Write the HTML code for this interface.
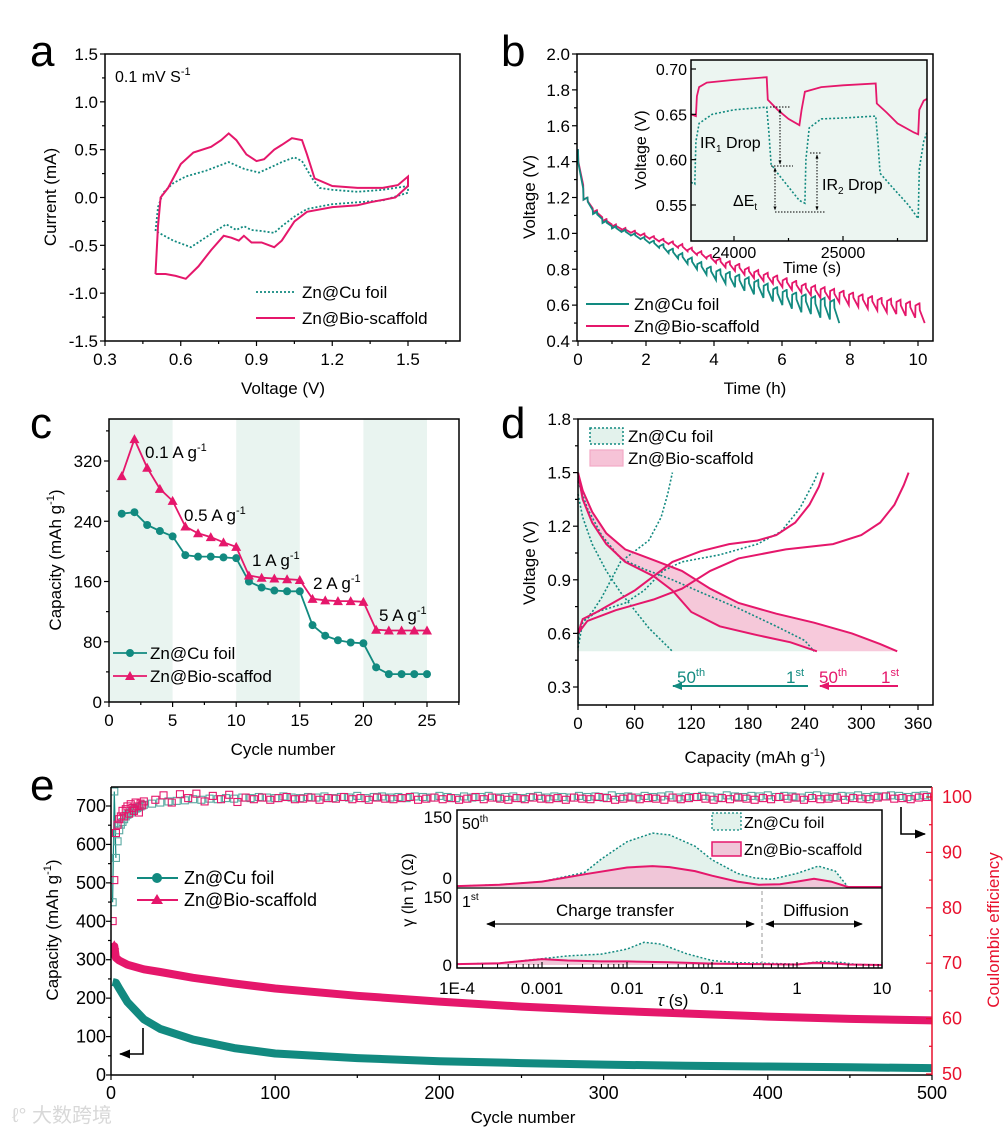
<!DOCTYPE html>
<html><head><meta charset="utf-8"><style>
html,body{margin:0;padding:0;background:#fff;}
svg{display:block;font-family:"Liberation Sans","Noto Sans CJK SC",sans-serif;}
</style></head><body>
<svg id="fig" width="1008" height="1130" viewBox="0 0 1008 1130" xmlns="http://www.w3.org/2000/svg">
<defs>
<clipPath id="clipE"><rect x="111" y="787" width="821" height="288"/></clipPath>
<clipPath id="clipB"><rect x="577" y="54" width="356" height="287"/></clipPath>
<clipPath id="clipBi"><rect x="691" y="60" width="236" height="181"/></clipPath>
<marker id="ah" viewBox="0 0 10 10" refX="9" refY="5" markerWidth="7" markerHeight="7" orient="auto-start-reverse"><path d="M0 1 L10 5 L0 9 z" fill="#000"/></marker>
<marker id="ahs" viewBox="0 0 10 10" refX="9" refY="5" markerWidth="4" markerHeight="4" orient="auto-start-reverse"><path d="M0 1 L10 5 L0 9 z" fill="#000"/></marker>
<marker id="aht" viewBox="0 0 10 10" refX="9" refY="5" markerWidth="5" markerHeight="5" orient="auto"><path d="M0 1 L10 5 L0 9 z" fill="#128a80"/></marker>
<marker id="ahp" viewBox="0 0 10 10" refX="9" refY="5" markerWidth="5" markerHeight="5" orient="auto"><path d="M0 1 L10 5 L0 9 z" fill="#e5176b"/></marker>
</defs>
<g id="root"></g>
<!-- panel letters -->
<text x="30" y="66" font-size="44">a</text>
<text x="501" y="66" font-size="44">b</text>
<text x="30" y="438" font-size="44">c</text>
<text x="501" y="438" font-size="44">d</text>
<text x="30" y="800" font-size="44">e</text>

<!-- panel a static text -->
<text x="115" y="82" font-size="16">0.1 mV S<tspan font-size="11" dy="-7">-1</tspan></text>
<text x="283" y="394" font-size="17" text-anchor="middle">Voltage (V)</text>
<text transform="translate(56,197) rotate(-90)" font-size="17" text-anchor="middle">Current (mA)</text>
<text x="302" y="298" font-size="17">Zn@Cu foil</text>
<text x="302" y="324" font-size="17">Zn@Bio-scaffold</text>

<!-- panel b static text -->
<text x="755" y="394" font-size="17" text-anchor="middle">Time (h)</text>
<text transform="translate(535,197) rotate(-90)" font-size="17" text-anchor="middle">Voltage (V)</text>
<text x="634" y="310" font-size="17">Zn@Cu foil</text>
<text x="634" y="332" font-size="17">Zn@Bio-scaffold</text>

<!-- panel c static text -->
<text x="283" y="755" font-size="17" text-anchor="middle">Cycle number</text>
<text transform="translate(61,560) rotate(-90)" font-size="17" text-anchor="middle">Capacity (mAh g<tspan font-size="11" dy="-7">-1</tspan><tspan dy="7">)</tspan></text>
<text x="145" y="458" font-size="17">0.1 A g<tspan font-size="11" dy="-7">-1</tspan></text>
<text x="184" y="521" font-size="17">0.5 A g<tspan font-size="11" dy="-7">-1</tspan></text>
<text x="252" y="566" font-size="17">1 A g<tspan font-size="11" dy="-7">-1</tspan></text>
<text x="313" y="589" font-size="17">2 A g<tspan font-size="11" dy="-7">-1</tspan></text>
<text x="379" y="621" font-size="17">5 A g<tspan font-size="11" dy="-7">-1</tspan></text>
<text x="150" y="659" font-size="17">Zn@Cu foil</text>
<text x="150" y="682" font-size="17">Zn@Bio-scaffod</text>

<!-- panel d static text -->
<text x="755" y="763" font-size="17" text-anchor="middle">Capacity (mAh g<tspan font-size="11" dy="-7">-1</tspan><tspan dy="7">)</tspan></text>
<text transform="translate(535,563) rotate(-90)" font-size="17" text-anchor="middle">Voltage (V)</text>
<text x="628" y="442" font-size="17">Zn@Cu foil</text>
<text x="628" y="464" font-size="17">Zn@Bio-scaffold</text>
<text x="677" y="683" font-size="17" fill="#128a80">50<tspan font-size="11" dy="-7">th</tspan></text>
<text x="786" y="683" font-size="17" fill="#128a80">1<tspan font-size="11" dy="-7">st</tspan></text>
<text x="819" y="683" font-size="17" fill="#e5176b">50<tspan font-size="11" dy="-7">th</tspan></text>
<text x="881" y="683" font-size="17" fill="#e5176b">1<tspan font-size="11" dy="-7">st</tspan></text>

<!-- panel e static text -->
<text x="523" y="1123" font-size="17" text-anchor="middle">Cycle number</text>
<text transform="translate(58,930) rotate(-90)" font-size="17" text-anchor="middle">Capacity (mAh g<tspan font-size="11" dy="-7">-1</tspan><tspan dy="7">)</tspan></text>
<text transform="translate(999,930) rotate(-90)" font-size="17" text-anchor="middle" fill="#e8112d">Coulombic efficiency</text>
<text x="184" y="884" font-size="18">Zn@Cu foil</text>
<text x="184" y="906" font-size="18">Zn@Bio-scaffold</text>
<text x="12" y="1122" font-size="20" fill="#d8d8d8">ℓ° 大数跨境</text>
</svg>
<script>
// ===== DATA =====
// panel a (CV)
const aBioV=[0.5,0.51,0.52,0.55,0.6,0.65,0.72,0.76,0.79,0.82,0.86,0.9,0.93,0.97,1.0,1.04,1.08,1.1,1.13,1.2,1.3,1.4,1.46,1.5,1.5,1.45,1.35,1.3,1.2,1.1,1.05,1.0,0.97,0.92,0.88,0.85,0.83,0.8,0.77,0.72,0.67,0.62,0.58,0.54,0.5,0.5];
const aBioI=[-0.8,-0.3,0,0.1,0.35,0.47,0.53,0.6,0.67,0.6,0.45,0.38,0.4,0.5,0.55,0.62,0.6,0.45,0.2,0.12,0.1,0.1,0.13,0.22,0.12,0,-0.05,-0.08,-0.1,-0.15,-0.25,-0.45,-0.52,-0.47,-0.47,-0.4,-0.45,-0.42,-0.4,-0.55,-0.72,-0.85,-0.82,-0.8,-0.8,-0.8];
const aCuV=[0.5,0.51,0.53,0.57,0.62,0.7,0.79,0.85,0.91,0.96,1.0,1.05,1.08,1.12,1.15,1.2,1.3,1.4,1.5,1.5,1.4,1.3,1.2,1.1,1.05,1.0,0.97,0.92,0.88,0.85,0.82,0.78,0.72,0.64,0.57,0.5];
const aCuI=[-0.35,-0.1,0.05,0.15,0.22,0.28,0.37,0.3,0.26,0.32,0.37,0.42,0.38,0.2,0.1,0.08,0.06,0.08,0.12,0.05,-0.03,-0.05,-0.07,-0.12,-0.2,-0.3,-0.37,-0.35,-0.34,-0.3,-0.34,-0.28,-0.38,-0.52,-0.45,-0.35];
const aXTicks=[0.3,0.6,0.9,1.2,1.5];
const aYTicks=[-1.5,-1.0,-0.5,0.0,0.5,1.0,1.5];
// panel b (GITT)
const bPeriod=0.279;
const bCuTop=[1.47,1.2,1.12,1.07,1.04,1.02,1.0,0.98,0.96,0.94,0.915,0.89,0.865,0.84,0.815,0.8,0.785,0.77,0.755,0.74,0.72,0.7,0.685,0.67,0.66,0.65,0.64,0.63];
const bCuBot=[1.25,1.13,1.08,1.04,1.01,0.99,0.97,0.945,0.92,0.89,0.86,0.83,0.8,0.77,0.74,0.72,0.7,0.68,0.66,0.64,0.62,0.6,0.58,0.56,0.55,0.53,0.52,0.5];
const bBioTop=[1.47,1.2,1.13,1.08,1.05,1.03,1.015,1.0,0.985,0.97,0.955,0.94,0.92,0.9,0.88,0.86,0.845,0.83,0.81,0.795,0.78,0.765,0.75,0.735,0.72,0.71,0.7,0.69,0.68,0.67,0.66,0.65,0.64,0.635,0.63,0.62,0.61];
const bBioBot=[1.27,1.14,1.09,1.05,1.025,1.005,0.99,0.97,0.955,0.94,0.92,0.9,0.88,0.86,0.835,0.81,0.79,0.77,0.75,0.735,0.72,0.7,0.685,0.67,0.655,0.64,0.63,0.615,0.6,0.59,0.58,0.57,0.56,0.55,0.54,0.53,0.5];
const bXTicks=[0,2,4,6,8,10];
const bYTicks=[0.4,0.6,0.8,1.0,1.2,1.4,1.6,1.8,2.0];
const biBioT=[23606,23650,23660,23680,23750,24000,24300,24310,24400,24500,24600,24620,24650,24800,25000,25300,25310,25400,25500,25650,25690,25700,25740,25770];
const biBioV=[0.65,0.648,0.67,0.68,0.685,0.688,0.691,0.666,0.655,0.645,0.638,0.655,0.675,0.68,0.682,0.684,0.662,0.652,0.64,0.63,0.628,0.655,0.665,0.667];
const biCuT=[23606,23640,23650,23680,23800,24000,24300,24320,24340,24400,24500,24600,24650,24660,24690,24800,25000,25300,25320,25340,25450,25600,25690,25700,25740,25770];
const biCuV=[0.575,0.573,0.62,0.64,0.65,0.655,0.658,0.63,0.595,0.585,0.57,0.555,0.552,0.6,0.635,0.645,0.646,0.648,0.62,0.585,0.57,0.55,0.535,0.59,0.62,0.63];
const biXTicks=[24000,25000];
const biYTicks=[0.55,0.60,0.65,0.70];
// panel c (rate)
const cCycles=[1,2,3,4,5,6,7,8,9,10,11,12,13,14,15,16,17,18,19,20,21,22,23,24,25];
const cCu=[250,252,235,227,220,195,193,193,192,191,160,152,148,147,147,102,88,82,79,78,46,37,37,37,37];
const cBio=[300,349,311,283,267,233,224,219,212,206,168,165,164,163,162,137,135,134,134,133,96,95,95,95,95];
const cBands=[[0,5],[10,15],[20,25]];
const cXTicks=[0,5,10,15,20,25];
const cYTicks=[0,80,160,240,320];
// panel d (charge/discharge)
const dBio50cQ=[0,5,20,40,60,80,100,130,160,190,210,230,245,255,260];
const dBio50cV=[0.6,0.68,0.72,0.78,0.84,0.92,1.0,1.06,1.1,1.12,1.15,1.22,1.32,1.42,1.5];
const dBio1cQ=[0,10,40,80,110,140,170,220,270,300,320,335,345,350];
const dBio1cV=[0.6,0.67,0.73,0.79,0.85,0.95,1.02,1.07,1.1,1.15,1.22,1.32,1.43,1.5];
const dCu1cQ=[0,3,20,50,70,90,110,150,190,215,235,250,254];
const dCu1cV=[0.55,0.66,0.72,0.77,0.84,0.95,1.0,1.04,1.1,1.17,1.3,1.45,1.5];
const dCu50cQ=[0,5,15,25,35,45,60,75,88,95,100];
const dCu50cV=[0.52,0.66,0.72,0.8,0.9,1.0,1.06,1.12,1.25,1.38,1.5];
const dBio1dQ=[0,5,15,30,50,80,110,140,170,210,250,290,320,338];
const dBio1dV=[1.5,1.4,1.28,1.16,1.07,1.01,0.95,0.85,0.77,0.71,0.66,0.6,0.54,0.5];
const dBio50dQ=[0,5,15,30,50,80,100,120,150,190,225,253];
const dBio50dV=[1.5,1.35,1.22,1.1,1.0,0.92,0.84,0.72,0.64,0.59,0.55,0.5];
const dCu1dQ=[0,10,25,45,70,100,130,170,210,240,250];
const dCu1dV=[1.45,1.3,1.15,1.02,0.96,0.9,0.83,0.74,0.64,0.56,0.5];
const dCu50dQ=[0,5,15,30,45,60,75,100];
const dCu50dV=[1.38,1.25,1.1,0.95,0.83,0.73,0.63,0.5];
const dXTicks=[0,60,120,180,240,300,360];
const dYTicks=[0.3,0.6,0.9,1.2,1.5,1.8];
// panel e (cycling)
const eCuCycles=[1,3,5,10,20,30,50,75,100,150,200,250,300,350,400,450,500];
const eCuCap=[242,240,225,190,145,120,92,70,56,44,36,31,27,24,22,20,18];
const eBioCycles=[1,2,3,5,10,20,30,50,75,100,150,200,250,300,350,400,450,500];
const eBioCap=[305,335,305,298,287,275,268,253,238,225,206,191,178,168,160,152,146,142];
const eCEearlyCycles=[1,2,3,4,5,6,7,8,9,10,11,12,13,14,15,16,17,18,19,20];
const eBioCEearly=[77.6,85,93.5,95,96,96.5,97.5,96.5,97.8,98.3,97,98.7,98,97.5,99,98.3,97.2,98.8,98.5,99.2];
const eCuCEearly=[81,101,89,92,94,95,95.5,96,96.5,96.8,97,97.2,97.5,97.7,97.9,98,98.2,98.3,98.5,98.6];
const eCElateStart=25, eCElateStep=5;
const eBioCElate=[99.5,100.3,99.0,100.5,99.8,100.6,99.2,100.2,99.6,100.4,99.1,99.9,99.6,99.9,99.5,99.8,100.0,99.6,99.7,99.9,99.5,99.8,99.7,100.0,99.6,99.8,99.5,99.9,99.7,99.6,99.8,100.0,99.5,99.7,99.9,99.6,99.8,99.5,99.7,100.0,99.6,99.9,99.7,99.5,99.8,99.6,99.9,99.7,99.6,99.8,99.5,99.9,99.7,99.6,100.0,99.8,99.5,99.7,99.9,99.6,99.8,99.7,99.5,99.9,99.6,99.8,100.0,99.7,99.5,99.8,99.6,99.9,99.7,99.5,99.8,99.6,100.0,99.7,99.9,99.5,99.8,99.6,99.7,99.9,99.5,99.8,99.7,99.6,99.9,100.1,99.7,99.8,99.6,99.9,100.0,99.8];
const eCuCElate=[98.8,99.0,99.2,99.3,99.4,99.6,99.5,99.7,99.6,99.8,99.7,99.9,99.8,100.0,99.9,99.8,100.1,99.9,99.8,100.0,99.9,100.1,99.8,100.0,99.9,100.2,99.8,100.0,100.1,99.9,100.0,99.8,100.1,100.0,99.9,100.2,100.0,99.8,100.1,99.9,100.0,100.2,99.9,100.0,100.1,99.8,100.0,100.2,99.9,100.1,100.0,99.9,100.2,100.0,100.1,99.9,100.3,100.0,100.1,99.9,100.2,100.0,100.1,100.3,99.9,100.1,100.0,100.2,100.1,99.9,100.3,100.1,100.0,100.2,100.1,100.3,100.0,100.2,100.1,99.9,100.2,100.3,100.1,100.0,100.2,100.1,100.3,100.0,100.2,100.1,100.3,100.2,100.0,100.2,100.3,100.1];
const eXTicks=[0,100,200,300,400,500];
const eYTicks=[0,100,200,300,400,500,600,700];
const eY2Ticks=[50,60,70,80,90,100];
// inset e (DRT)
const iCu50L=[-4,-3.5,-3,-2.5,-2.3,-2,-1.7,-1.5,-1.2,-1,-0.7,-0.5,-0.3,0,0.25,0.45,0.6,1];
const iCu50G=[2,5,12,32,62,100,119,115,90,60,30,20,17,30,46,35,0,0];
const iBio50L=[-4,-3.5,-3,-2.5,-2,-1.7,-1.5,-1.2,-1,-0.7,-0.45,-0.2,0,0.2,0.4,0.6,1];
const iBio50G=[2,5,12,28,43,46,44,35,25,12,5,6,12,18,12,0,0];
const iCu1L=[-4,-3.5,-3,-2.7,-2.3,-2,-1.8,-1.6,-1.3,-1,-0.7,-0.4,0,0.3,0.5,0.7,1];
const iCu1G=[2,4,14,20,24,35,50,46,25,10,5,4,2,8,6,1,0];
const iBio1L=[-4,-3.5,-3,-2.7,-2.3,-2,-1.5,-1,-0.5,0,0.2,0.4,0.6,1];
const iBio1G=[2,4,13,10,8,8,6,3,2,1,5,4,1,0];
const iXTicks=[-4,-3,-2,-1,0,1];
const iXLabels=['1E-4','0.001','0.01','0.1','1','10'];

// ===== HELPERS =====
const NS='http://www.w3.org/2000/svg';
const root=document.getElementById('root');
const TEAL='#128a80', PINK='#e5176b', RED='#e8112d';
function mk(tag,attrs,name,parent){
  const e=document.createElementNS(NS,tag);
  for(const k in attrs) e.setAttribute(k,attrs[k]);
  
  
  (parent||root).appendChild(e);
  return e;
}
function lin(d0,d1,p0,p1){return v=>p0+(v-d0)*(p1-p0)/(d1-d0);}
function pathD(xs,ys,sx,sy){return xs.map((x,i)=>(i?'L':'M')+sx(x).toFixed(1)+' '+sy(ys[i]).toFixed(1)).join('');}
function txt(parent,x,y,s,size,anchor,name,fill){
  const t=mk('text',{x:x,y:y,'font-size':size,'text-anchor':anchor,fill:fill||'#000'},name,parent);
  t.textContent=s;return t;
}
function fmt(v,d){return v.toFixed(d);}
function box(g,x0,y0,x1,y1,name,stroke){
  mk('rect',{x:x0,y:y0,width:x1-x0,height:y1-y0,fill:'none',stroke:stroke||'#000','stroke-width':1.5},name,g);
}
function xTicks(g,sx,yA,vals,len,name,color){
  vals.forEach(v=>{mk('line',{x1:sx(v),x2:sx(v),y1:yA,y2:yA+len,stroke:color||'#000','stroke-width':1.2},name,g);});
}
function yTicks(g,sy,xA,vals,len,name,color){
  vals.forEach(v=>{mk('line',{x1:xA,x2:xA-len,y1:sy(v),y2:sy(v),stroke:color||'#000','stroke-width':1.2},name,g);});
}
function mids(vals){const m=[];for(let i=0;i<vals.length-1;i++)m.push((vals[i]+vals[i+1])/2);return m;}

// ===== PANEL A =====
(function(){
  const g=mk('g',{},'panel-a');
  const sx=lin(0.3,1.5,105,408), sy=lin(0,1.5,197.5,54);
  mk('path',{d:pathD(aCuV,aCuI,sx,sy),fill:'none',stroke:TEAL,'stroke-width':1.8,'stroke-dasharray':'2 2'},'a-cu-foil-curve',g);
  mk('path',{d:pathD(aBioV,aBioI,sx,sy),fill:'none',stroke:PINK,'stroke-width':2},'a-bio-scaffold-curve',g);
  box(g,105,54,460,341,'a-plot-frame');
  xTicks(g,sx,341,aXTicks,5,'a-x-tick');
  xTicks(g,sx,341,mids(aXTicks).concat([1.65]),3,'a-x-minor-tick');
  yTicks(g,sy,105,aYTicks,5,'a-y-tick');
  yTicks(g,sy,105,mids(aYTicks),3,'a-y-minor-tick');
  aXTicks.forEach(v=>txt(g,sx(v),365,fmt(v,1),17,'middle','a-x-tick-label'));
  aYTicks.forEach(v=>txt(g,98,sy(v)+6,fmt(v,1),17,'end','a-y-tick-label'));
  mk('line',{x1:256,x2:295,y1:292,y2:292,stroke:TEAL,'stroke-width':1.8,'stroke-dasharray':'2 2'},'a-legend-cu-line',g);
  mk('line',{x1:256,x2:295,y1:318,y2:318,stroke:PINK,'stroke-width':2},'a-legend-bio-line',g);
})();

// ===== PANEL B =====
(function(){
  const g=mk('g',{},'panel-b');
  const sx=lin(0,10,578,918), sy=lin(0.4,2.0,341,54);
  const cg=mk('g',{'clip-path':'url(#clipB)'},'b-curves',g);
  function gitt(top,bot){
    const T=[],V=[];const P=bPeriod;
    for(let k=0;k<top.length;k++){
      const t0=k*P;
      T.push(t0);V.push(top[k]);
      T.push(t0+0.008);V.push(top[k]-(top[k]-bot[k])*0.35);
      T.push(t0+0.55*P);V.push(bot[k]);
      if(k<top.length-1){T.push(t0+0.58*P);V.push(top[k+1]-0.012);T.push(t0+P-0.002);V.push(top[k+1]);}
    }
    return [T,V];
  }
  const cu=gitt(bCuTop,bCuBot), bio=gitt(bBioTop,bBioBot);
  mk('path',{d:pathD(bio[0],bio[1],sx,sy),fill:'none',stroke:PINK,'stroke-width':1.8},'b-bio-scaffold-curve',cg);
  mk('path',{d:pathD(cu[0],cu[1],sx,sy),fill:'none',stroke:TEAL,'stroke-width':1.8},'b-cu-foil-curve',cg);
  box(g,577,54,933,341,'b-plot-frame');
  xTicks(g,sx,341,bXTicks,5,'b-x-tick');
  xTicks(g,sx,341,[1,3,5,7,9],3,'b-x-minor-tick');
  yTicks(g,sy,577,bYTicks,5,'b-y-tick');
  yTicks(g,sy,577,mids(bYTicks),3,'b-y-minor-tick');
  bXTicks.forEach(v=>txt(g,sx(v),365,String(v),17,'middle','b-x-tick-label'));
  bYTicks.forEach(v=>txt(g,570,sy(v)+6,fmt(v,1),17,'end','b-y-tick-label'));
  mk('line',{x1:586,x2:629,y1:304,y2:304,stroke:TEAL,'stroke-width':2},'b-legend-cu-line',g);
  mk('line',{x1:586,x2:629,y1:326,y2:326,stroke:PINK,'stroke-width':2},'b-legend-bio-line',g);
  // inset
  const ig=mk('g',{},'b-inset',g);
  mk('rect',{x:691,y:60,width:236,height:181,fill:'#ecf5f1'},'b-inset-background',ig);
  const ix=lin(24000,25000,734,843), iy=lin(0.55,0.70,205,69);
  const icg=mk('g',{'clip-path':'url(#clipBi)'},'b-inset-curves',ig);
  mk('path',{d:pathD(biCuT,biCuV,ix,iy),fill:'none',stroke:TEAL,'stroke-width':1.6,'stroke-dasharray':'2 2'},'b-inset-cu-curve',icg);
  mk('path',{d:pathD(biBioT,biBioV,ix,iy),fill:'none',stroke:PINK,'stroke-width':1.8},'b-inset-bio-curve',icg);
  box(ig,691,60,927,241,'b-inset-frame');
  xTicks(ig,ix,241,biXTicks,-5,'b-inset-x-tick');
  xTicks(ig,ix,241,[23500,24500,25500].filter(v=>ix(v)>691&&ix(v)<927),-3,'b-inset-x-minor-tick');
  yTicks(ig,iy,691,biYTicks,-5,'b-inset-y-tick');
  biXTicks.forEach(v=>txt(ig,ix(v),258,String(v),16,'middle','b-inset-x-tick-label'));
  biYTicks.forEach(v=>txt(ig,687,iy(v)+6,fmt(v,2),16,'end','b-inset-y-tick-label'));
  txt(ig,812,273,'Time (s)',16,'middle','b-inset-x-title');
  const yt=txt(ig,0,0,'Voltage (V)',16,'middle','b-inset-y-title');
  yt.setAttribute('transform','translate(646,150) rotate(-90)');
  const a1=mk('text',{x:700,y:148,'font-size':16},'b-ir1-label',ig); a1.innerHTML='IR<tspan font-size="10" dy="4">1</tspan><tspan dy="-4"> Drop</tspan>';
  const a2=mk('text',{x:822,y:190,'font-size':16},'b-ir2-label',ig); a2.innerHTML='IR<tspan font-size="10" dy="4">2</tspan><tspan dy="-4"> Drop</tspan>';
  const a3=mk('text',{x:733,y:206,'font-size':16},'b-delta-e-label',ig); a3.innerHTML='ΔE<tspan font-size="10" dy="4">t</tspan>';
  const dl={stroke:'#000','stroke-width':1,'stroke-dasharray':'1.5 1.5'};
  mk('line',Object.assign({x1:770,x2:790,y1:107,y2:107},dl),'b-guide-line',ig);
  mk('line',Object.assign({x1:771,x2:793,y1:166,y2:166},dl),'b-guide-line',ig);
  mk('line',Object.assign({x1:775,x2:825,y1:212,y2:212},dl),'b-guide-line',ig);
  mk('line',Object.assign({x1:810,x2:822,y1:153,y2:153},dl),'b-guide-line',ig);
  mk('line',Object.assign({x1:780,x2:780,y1:109,y2:164,'marker-start':'url(#ahs)','marker-end':'url(#ahs)'},dl),'b-ir1-arrow',ig);
  mk('line',Object.assign({x1:775,x2:775,y1:168,y2:210,'marker-start':'url(#ahs)','marker-end':'url(#ahs)'},dl),'b-delta-e-arrow',ig);
  mk('line',Object.assign({x1:817,x2:817,y1:155,y2:210,'marker-start':'url(#ahs)','marker-end':'url(#ahs)'},dl),'b-ir2-arrow',ig);
})();

// ===== PANEL C =====
(function(){
  const g=mk('g',{},'panel-c');
  const sx=lin(0,25,109,427), sy=lin(0,320,702,461);
  cBands.forEach(b=>mk('rect',{x:sx(b[0]),y:419,width:sx(b[1])-sx(b[0]),height:283,fill:'#e9f4f0'},'c-rate-band',g));
  mk('path',{d:pathD(cCycles,cCu,sx,sy),fill:'none',stroke:TEAL,'stroke-width':1.8},'c-cu-foil-line',g);
  cCycles.forEach((c,i)=>mk('circle',{cx:sx(c),cy:sy(cCu[i]),r:4,fill:TEAL},'c-cu-foil-point',g));
  mk('path',{d:pathD(cCycles,cBio,sx,sy),fill:'none',stroke:PINK,'stroke-width':1.8},'c-bio-scaffold-line',g);
  cCycles.forEach((c,i)=>{const x=sx(c),y=sy(cBio[i]);mk('path',{d:`M${x} ${y-5}L${x+5} ${y+4}L${x-5} ${y+4}Z`,fill:PINK},'c-bio-scaffold-point',g);});
  box(g,109,419,459,702,'c-plot-frame');
  xTicks(g,sx,702,cXTicks,5,'c-x-tick');
  xTicks(g,sx,702,[2.5,7.5,12.5,17.5,22.5,27.5].filter(v=>sx(v)<459),3,'c-x-minor-tick');
  yTicks(g,sy,109,cYTicks,5,'c-y-tick');
  yTicks(g,sy,109,[40,120,200,280,360],3,'c-y-minor-tick');
  cXTicks.forEach(v=>txt(g,sx(v),726,String(v),17,'middle','c-x-tick-label'));
  cYTicks.forEach(v=>txt(g,102,sy(v)+6,String(v),17,'end','c-y-tick-label'));
  mk('line',{x1:113,x2:147,y1:653,y2:653,stroke:TEAL,'stroke-width':1.8},'c-legend-cu-line',g);
  mk('circle',{cx:130,cy:653,r:4,fill:TEAL},'c-legend-cu-marker',g);
  mk('line',{x1:113,x2:147,y1:676,y2:676,stroke:PINK,'stroke-width':1.8},'c-legend-bio-line',g);
  mk('path',{d:'M130 671L135 680L125 680Z',fill:PINK},'c-legend-bio-marker',g);
})();

// ===== PANEL D =====
(function(){
  const g=mk('g',{},'panel-d');
  const sx=lin(0,360,578,918), sy=lin(0.3,1.8,687,419);
  const cuFill=pathD(dCu1dQ,dCu1dV,sx,sy)+`L${sx(0)} ${sy(0.5)}Z`;
  mk('path',{d:cuFill,fill:'#e3f2ec'},'d-cu-fill',g);
  const bioFill=pathD(dBio1dQ,dBio1dV,sx,sy)+pathD(dBio50dQ.slice().reverse(),dBio50dV.slice().reverse(),sx,sy).replace('M','L')+'Z';
  mk('path',{d:bioFill,fill:'#f6c3d7','fill-opacity':0.9},'d-bio-fill',g);
  const dot={fill:'none',stroke:TEAL,'stroke-width':1.6,'stroke-dasharray':'2 2'};
  const sol={fill:'none',stroke:PINK,'stroke-width':2};
  mk('path',Object.assign({d:pathD(dCu1cQ,dCu1cV,sx,sy)},dot),'d-cu-1st-charge',g);
  mk('path',Object.assign({d:pathD(dCu50cQ,dCu50cV,sx,sy)},dot),'d-cu-50th-charge',g);
  mk('path',Object.assign({d:pathD(dCu1dQ,dCu1dV,sx,sy)},dot),'d-cu-1st-discharge',g);
  mk('path',Object.assign({d:pathD(dCu50dQ,dCu50dV,sx,sy)},dot),'d-cu-50th-discharge',g);
  mk('path',Object.assign({d:pathD(dBio1cQ,dBio1cV,sx,sy)},sol),'d-bio-1st-charge',g);
  mk('path',Object.assign({d:pathD(dBio50cQ,dBio50cV,sx,sy)},sol),'d-bio-50th-charge',g);
  mk('path',Object.assign({d:pathD(dBio1dQ,dBio1dV,sx,sy)},sol),'d-bio-1st-discharge',g);
  mk('path',Object.assign({d:pathD(dBio50dQ,dBio50dV,sx,sy)},sol),'d-bio-50th-discharge',g);
  box(g,578,419,933,705,'d-plot-frame');
  xTicks(g,sx,705,dXTicks,5,'d-x-tick');
  xTicks(g,sx,705,mids(dXTicks),3,'d-x-minor-tick');
  yTicks(g,sy,578,dYTicks,5,'d-y-tick');
  yTicks(g,sy,578,mids(dYTicks),3,'d-y-minor-tick');
  dXTicks.forEach(v=>txt(g,sx(v),729,String(v),17,'middle','d-x-tick-label'));
  dYTicks.forEach(v=>txt(g,571,sy(v)+6,fmt(v,1),17,'end','d-y-tick-label'));
  mk('line',{x1:808,x2:673,y1:686,y2:686,stroke:TEAL,'stroke-width':2,'marker-end':'url(#aht)'},'d-cu-arrow',g);
  mk('line',{x1:898,x2:820,y1:686,y2:686,stroke:PINK,'stroke-width':2,'marker-end':'url(#ahp)'},'d-bio-arrow',g);
  mk('rect',{x:590,y:428,width:33,height:16,fill:'#e3f2ec',stroke:TEAL,'stroke-width':1.5,'stroke-dasharray':'2 2'},'d-legend-cu-swatch',g);
  mk('rect',{x:590,y:450,width:33,height:16,fill:'#f6c3d7',stroke:'#f3a9c6','stroke-width':1.2},'d-legend-bio-swatch',g);
})();

// ===== PANEL E =====
(function(){
  const g=mk('g',{},'panel-e');
  const sx=lin(0,500,111,932), sy=lin(0,700,1075,806), sr=lin(50,100,1074,797);
  const cg=mk('g',{'clip-path':'url(#clipE)'},'e-series',g);
  mk('path',{d:pathD(eBioCycles,eBioCap,sx,sy),fill:'none',stroke:PINK,'stroke-width':8,'stroke-linejoin':'round'},'e-bio-capacity',cg);
  mk('path',{d:pathD(eCuCycles,eCuCap,sx,sy),fill:'none',stroke:TEAL,'stroke-width':8,'stroke-linejoin':'round'},'e-cu-capacity',cg);
  const x0=sx(eBioCycles[1]),y0=sy(eBioCap[1]);
  mk('path',{d:`M${x0} ${y0-6}L${x0+5} ${y0+3}L${x0-5} ${y0+3}Z`,fill:PINK},'e-bio-capacity-marker',cg);
  mk('path',{d:pathD(eCEearlyCycles.slice(0,3),eCuCEearly.slice(0,3),sx,sr),fill:'none',stroke:TEAL,'stroke-width':1.2},'e-cu-ce-line',cg);
  function sq(c,v,col,name){mk('rect',{x:sx(c)-3.5,y:sr(v)-3.5,width:7,height:7,fill:'none',stroke:col,'stroke-width':1.1},name,cg);}
  eCEearlyCycles.forEach((c,i)=>sq(c,eCuCEearly[i],'#5aa9a2','e-cu-ce-point'));
  eCuCElate.forEach((v,i)=>sq(eCElateStart+i*eCElateStep,v,'#5aa9a2','e-cu-ce-point'));
  eCEearlyCycles.forEach((c,i)=>sq(c,eBioCEearly[i],PINK,'e-bio-ce-point'));
  eBioCElate.forEach((v,i)=>sq(eCElateStart+i*eCElateStep+2,v,PINK,'e-bio-ce-point'));
  mk('line',{x1:111,x2:932,y1:787,y2:787,stroke:'#000','stroke-width':1.5},'e-top-frame',g);
  mk('line',{x1:111,x2:111,y1:787,y2:1075,stroke:'#000','stroke-width':1.5},'e-left-axis',g);
  mk('line',{x1:111,x2:932,y1:1075,y2:1075,stroke:'#000','stroke-width':1.5},'e-bottom-axis',g);
  mk('line',{x1:932,x2:932,y1:787,y2:1075,stroke:RED,'stroke-width':1.5},'e-right-axis',g);
  xTicks(g,sx,1075,eXTicks,5,'e-x-tick');
  xTicks(g,sx,1075,mids(eXTicks),3,'e-x-minor-tick');
  yTicks(g,sy,111,eYTicks,5,'e-y-tick');
  yTicks(g,sy,111,mids(eYTicks),3,'e-y-minor-tick');
  yTicks(g,sr,932,eY2Ticks,6,'e-y2-tick',RED);
  yTicks(g,sr,932,mids(eY2Ticks),3,'e-y2-minor-tick',RED);
  eXTicks.forEach(v=>txt(g,sx(v),1099,String(v),18,'middle','e-x-tick-label'));
  eYTicks.forEach(v=>txt(g,106,sy(v)+6,String(v),18,'end','e-y-tick-label'));
  eY2Ticks.forEach(v=>txt(g,942,sr(v)+6,String(v),18,'start','e-y2-tick-label',RED));
  mk('line',{x1:137,x2:178,y1:878,y2:878,stroke:TEAL,'stroke-width':2},'e-legend-cu-line',g);
  mk('circle',{cx:157,cy:878,r:5,fill:TEAL},'e-legend-cu-marker',g);
  mk('line',{x1:137,x2:178,y1:900,y2:900,stroke:PINK,'stroke-width':2},'e-legend-bio-line',g);
  mk('path',{d:'M157 894L163 904L151 904Z',fill:PINK},'e-legend-bio-marker',g);
  mk('path',{d:'M143 1028L143 1054L120 1054',fill:'none',stroke:'#000','stroke-width':1.6,'marker-end':'url(#ah)'},'e-left-axis-arrow',g);
  mk('path',{d:'M901 807L901 834L925 834',fill:'none',stroke:'#000','stroke-width':1.6,'marker-end':'url(#ah)'},'e-right-axis-arrow',g);

  // inset DRT
  const ig=mk('g',{},'e-inset',g);
  mk('rect',{x:457,y:810,width:425,height:158,fill:'#fff'},'e-inset-background',ig);
  const lx=lin(-4,1,457,882), uy=lin(0,150,887,819), ly=lin(0,150,965,897);
  function area(L,G,s,col,fill,dash,name){
    const d=pathD(L,G,lx,s);
    mk('path',{d:d+`L${lx(L[L.length-1])} ${s(0)}L${lx(L[0])} ${s(0)}Z`,fill:fill,stroke:'none'},name+'-fill',ig);
    const a={d:d,fill:'none',stroke:col,'stroke-width':dash?1.5:2};
    if(dash)a['stroke-dasharray']='2 2';
    mk('path',a,name+'-line',ig);
  }
  area(iCu50L,iCu50G,uy,TEAL,'#e3f2ec',true,'e-inset-cu-50th');
  area(iBio50L,iBio50G,uy,PINK,'#f0c6d8',false,'e-inset-bio-50th');
  area(iCu1L,iCu1G,ly,TEAL,'#e3f2ec',true,'e-inset-cu-1st');
  area(iBio1L,iBio1G,ly,PINK,'#f0c6d8',false,'e-inset-bio-1st');
  mk('line',{x1:457,x2:882,y1:888,y2:888,stroke:'#000','stroke-width':1.3},'e-inset-divider',ig);
  box(ig,457,810,882,968,'e-inset-frame');
  iXTicks.forEach(v=>mk('line',{x1:lx(v),x2:lx(v),y1:968,y2:962,stroke:'#000','stroke-width':1.1},'e-inset-x-tick',ig));
  for(let d=-4;d<1;d++){for(let m=2;m<10;m++){const x=lx(d+Math.log10(m));mk('line',{x1:x,x2:x,y1:968,y2:964,stroke:'#000','stroke-width':1},'e-inset-x-minor-tick',ig);}}
  iXTicks.forEach((v,i)=>txt(ig,lx(v),994,iXLabels[i],17,'middle','e-inset-x-tick-label'));
  txt(ig,452,823,'150',17,'end','e-inset-y-tick-label');
  txt(ig,452,884,'0',17,'end','e-inset-y-tick-label');
  txt(ig,452,903,'150',17,'end','e-inset-y-tick-label');
  txt(ig,452,971,'0',17,'end','e-inset-y-tick-label');
  const tt=mk('text',{x:673,y:1006,'font-size':17,'text-anchor':'middle'},'e-inset-x-title',ig); tt.innerHTML='<tspan font-style="italic">τ</tspan> (s)';
  const yt=mk('text',{transform:'translate(413,890) rotate(-90)','font-size':16,'text-anchor':'middle'},'e-inset-y-title',ig); yt.textContent='γ (ln τ) (Ω)';
  const l50=mk('text',{x:462,y:829,'font-size':16},'e-inset-50th-label',ig); l50.innerHTML='50<tspan font-size="10" dy="-7">th</tspan>';
  const l1=mk('text',{x:462,y:907,'font-size':16},'e-inset-1st-label',ig); l1.innerHTML='1<tspan font-size="10" dy="-7">st</tspan>';
  txt(ig,615,916,'Charge transfer',17,'middle','e-inset-charge-transfer-label');
  txt(ig,816,916,'Diffusion',17,'middle','e-inset-diffusion-label');
  mk('line',{x1:487,x2:754,y1:924,y2:924,stroke:'#000','stroke-width':1.3,'marker-start':'url(#ah)','marker-end':'url(#ah)'},'e-inset-charge-transfer-arrow',ig);
  mk('line',{x1:766,x2:862,y1:924,y2:924,stroke:'#000','stroke-width':1.3,'marker-start':'url(#ah)','marker-end':'url(#ah)'},'e-inset-diffusion-arrow',ig);
  mk('line',{x1:762,x2:762,y1:891,y2:966,stroke:'#999','stroke-width':1,'stroke-dasharray':'4 3'},'e-inset-boundary',ig);
  mk('rect',{x:712,y:813,width:29,height:17,fill:'#e3f2ec',stroke:TEAL,'stroke-width':1.3,'stroke-dasharray':'2 2'},'e-inset-legend-cu-swatch',ig);
  txt(ig,744,828,'Zn@Cu foil',16,'start','e-inset-legend-cu');
  mk('rect',{x:712,y:842,width:29,height:14,fill:'#f0c6d8',stroke:PINK,'stroke-width':1.5},'e-inset-legend-bio-swatch',ig);
  txt(ig,744,855,'Zn@Bio-scaffold',16,'start','e-inset-legend-bio');
})();
</script>
</body></html>
